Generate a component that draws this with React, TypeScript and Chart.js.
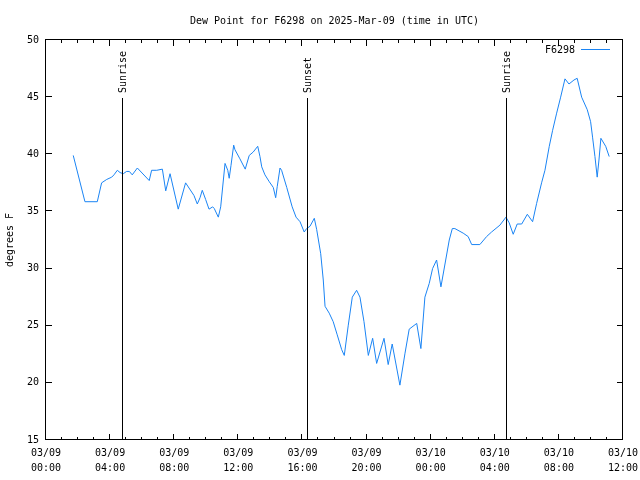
import React, { useEffect, useRef } from "react";
import { Chart, registerables } from "chart.js";

Chart.register(...registerables);

// hours since 2025-03-09 00:00 UTC
const hours: number[] = [
  1.70, 2.43, 3.20, 3.47, 3.79, 4.10, 4.24, 4.45, 4.62, 4.82, 5.03, 5.20, 5.38, 5.70,
  6.44, 6.59, 6.91, 7.26, 7.47, 7.74, 8.25, 8.71, 9.23, 9.44, 9.61, 9.75, 9.96, 10.17,
  10.40, 10.50, 10.75, 10.90, 11.17, 11.34, 11.43, 11.54, 11.71, 11.79, 12.10, 12.43,
  12.68, 12.93, 13.21, 13.35, 13.46, 13.66, 13.93, 14.18, 14.33, 14.43, 14.60, 14.70,
  15.02, 15.36, 15.60, 15.85, 16.11, 16.26, 16.47, 16.74, 16.89, 17.14, 17.30, 17.41,
  17.67, 17.92, 18.17, 18.45, 18.61, 18.86, 19.11, 19.38, 19.59, 19.84, 20.11, 20.38,
  20.63, 21.09, 21.35, 21.60, 22.08, 22.40, 22.66, 23.13, 23.39, 23.64, 23.91, 24.12,
  24.37, 24.64, 25.16, 25.35, 25.51, 26.03, 26.34, 26.56, 27.07, 27.49, 27.80, 28.32,
  28.70, 28.90, 29.15, 29.40, 29.68, 30.03, 30.36, 30.61, 30.92, 31.13, 31.40, 31.61,
  31.86, 32.11, 32.38, 32.63, 32.94, 33.14, 33.42, 33.77, 33.98, 34.10, 34.25, 34.39,
  34.50, 34.62, 34.92, 35.14,
];

const dewPoint: number[] = [
  39.9, 35.85, 35.85, 37.5, 37.8, 38.0, 38.2, 38.6, 38.4, 38.3, 38.5, 38.5, 38.2, 38.8,
  37.7, 38.6, 38.6, 38.7, 36.8, 38.3, 35.2, 37.5, 36.4, 35.65, 36.2, 36.85, 36.05, 35.2,
  35.4, 35.25, 34.5, 35.4, 39.2, 38.6, 37.9, 39.0, 40.8, 40.4, 39.6, 38.7,
  39.9, 40.2, 40.7, 39.8, 38.9, 38.2, 37.6, 37.1, 36.2, 37.2, 38.8, 38.6,
  37.1, 35.4, 34.5, 34.1, 33.2, 33.5, 33.7, 34.4, 33.4, 31.3, 29.0, 26.7,
  26.1, 25.35, 24.2, 22.9, 22.4, 25.05, 27.5, 28.1, 27.5, 25.35, 22.4, 23.9,
  21.7, 23.9, 21.6, 23.4, 19.8, 22.6, 24.7, 25.2, 23.0, 27.5, 28.7, 30.0,
  30.75, 28.4, 32.5, 33.5, 33.5, 33.1, 32.8, 32.1, 32.1, 32.8, 33.2, 33.8,
  34.5, 34.0, 33.0, 33.9, 33.9, 34.75, 34.1, 35.7, 37.5, 38.6, 40.7, 42.1,
  43.6, 45.0, 46.6, 46.15, 46.5, 46.65, 45.0, 43.9, 42.85, 41.5, 39.8, 38.0,
  39.5, 41.4, 40.7, 39.8,
];

const eventHours: number[] = [4.8, 16.34, 28.76];
const eventLabels: string[] = ["Sunrise", "Sunset", "Sunrise"];

const xTickHours: number[] = [0, 4, 8, 12, 16, 20, 24, 28, 32, 36];
const yTicks: number[] = [15, 20, 25, 30, 35, 40, 45, 50];

const seriesName = "F6298";
const titleText = "Dew Point for F6298 on 2025-Mar-09 (time in UTC)";
const yTitle = "degrees F";
const lineColor = "#1a84f4";
const FONT = "DejaVu Sans Mono";

function fmtHour(h: number): string[] {
  const day = h < 24 ? "03/09" : "03/10";
  const hh = Math.round(h % 24);
  return [day, (hh < 10 ? "0" : "") + hh + ":00"];
}

const decorPlugin = {
  id: "decor",
  afterDraw(chart: any) {
    const ctx = chart.ctx;
    const { left, right, top, bottom } = chart.chartArea;
    const xs = chart.scales.x;
    const ys = chart.scales.y;
    ctx.save();
    ctx.strokeStyle = "#000";
    ctx.lineWidth = 1;
    // frame
    ctx.strokeRect(Math.round(left) - 0.5, Math.round(top) - 0.5, Math.round(right - left), Math.round(bottom - top));
    // x ticks (major + minor) on top and bottom
    for (let h = 0; h <= 36; h++) {
      const px = Math.round(xs.getPixelForValue(h)) - 0.5;
      const len = h % 4 === 0 ? 6 : 3;
      ctx.beginPath();
      ctx.moveTo(px, bottom);
      ctx.lineTo(px, bottom - len);
      ctx.moveTo(px, top);
      ctx.lineTo(px, top + len);
      ctx.stroke();
    }
    // y ticks left and right
    yTicks.forEach((v) => {
      const py = Math.round(ys.getPixelForValue(v)) - 0.5;
      ctx.beginPath();
      ctx.moveTo(left, py);
      ctx.lineTo(left + 6, py);
      ctx.moveTo(right, py);
      ctx.lineTo(right - 6, py);
      ctx.stroke();
    });
    // event lines
    ctx.font = `10px "${FONT}"`;
    ctx.fillStyle = "#000";
    eventHours.forEach((h, i) => {
      const px = Math.round(xs.getPixelForValue(h)) - 0.5;
      ctx.beginPath();
      ctx.moveTo(px, bottom);
      ctx.lineTo(px, top + 58);
      ctx.stroke();
      ctx.save();
      ctx.translate(px + 1, top + 53);
      ctx.rotate(-Math.PI / 2);
      ctx.textAlign = "left";
      ctx.textBaseline = "middle";
      ctx.fillText(eventLabels[i], 0, 0);
      ctx.restore();
    });
    // title
    ctx.textAlign = "center";
    ctx.textBaseline = "middle";
    ctx.fillText(titleText, (left + right) / 2, 21);
    // y title
    ctx.save();
    ctx.translate(10, (top + bottom) / 2);
    ctx.rotate(-Math.PI / 2);
    ctx.fillText(yTitle, 0, 0);
    ctx.restore();
    // legend
    ctx.textAlign = "right";
    ctx.fillText(seriesName, 575, 50);
    ctx.strokeStyle = lineColor;
    ctx.beginPath();
    ctx.moveTo(581, 49.5);
    ctx.lineTo(610, 49.5);
    ctx.stroke();
    ctx.restore();
  },
};

export default function App() {
  const ref = useRef<HTMLCanvasElement | null>(null);
  useEffect(() => {
    if (!ref.current) return;
    const data = hours.map((h, i) => ({ x: h, y: dewPoint[i] }));
    const chart = new Chart(ref.current, {
      type: "line",
      data: {
        datasets: [
          {
            label: seriesName,
            data,
            borderColor: lineColor,
            borderWidth: 1,
            pointRadius: 0,
            tension: 0,
            fill: false,
          },
        ],
      },
      options: {
        animation: false,
        responsive: false,
        devicePixelRatio: 1,
        layout: { padding: { top: 40, right: 17, left: 0, bottom: 0 } },
        plugins: { legend: { display: false }, title: { display: false }, tooltip: { enabled: false } },
        scales: {
          x: {
            type: "linear",
            min: 0,
            max: 36,
            afterFit: (s: any) => { s.height = 40; s.paddingLeft = 0; s.paddingRight = 0; },
            afterBuildTicks: (s: any) => { s.ticks = xTickHours.map((v) => ({ value: v })); },
            grid: { display: false, drawTicks: false, tickLength: 0 },
            border: { display: false },
            ticks: {
              autoSkip: false,
              maxRotation: 0,
              padding: 6,
              color: "#000",
              font: { family: FONT, size: 10, lineHeight: 1.5 },
              callback: (v: any) => fmtHour(Number(v)),
            },
          },
          y: {
            min: 15,
            max: 50,
            afterFit: (s: any) => { s.width = 46; s.paddingTop = 0; s.paddingBottom = 0; },
            afterBuildTicks: (s: any) => { s.ticks = yTicks.map((v) => ({ value: v })); },
            grid: { display: false, drawTicks: false, tickLength: 0 },
            border: { display: false },
            ticks: {
              padding: 7,
              color: "#000",
              font: { family: FONT, size: 10 },
              callback: (v: any) => String(v),
            },
          },
        },
      },
      plugins: [decorPlugin],
    });
    return () => chart.destroy();
  }, []);
  return (
    <div style={{ position: "fixed", left: 0, top: 0, width: 640, height: 480, background: "#fff" }}>
      <canvas ref={ref} width={640} height={480} style={{ width: 640, height: 480 }} />
    </div>
  );
}
